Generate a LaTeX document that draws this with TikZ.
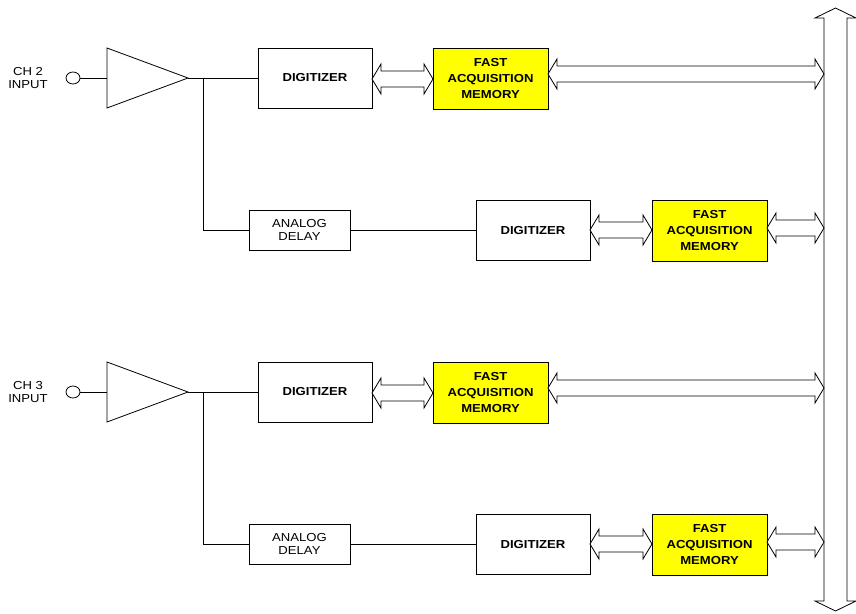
\documentclass[tikz,border=0pt]{standalone}
\usepackage{fontspec}
\setmainfont{Liberation Sans}[FakeStretch=1.13]
\usetikzlibrary{calc,shapes.geometric}
\definecolor{memyellow}{RGB}{255,255,0}
\newcommand{\dblarr}[2]{%
  \draw[dblar] let \p1=(#1), \p2=(#2) in
    (\x1,\y1) -- (\x1+9pt,\y1+15pt) -- (\x1+9pt,\y1+8pt) -- (\x2-9pt,\y1+8pt)
    -- (\x2-9pt,\y1+15pt) -- (\x2,\y1) -- (\x2-9pt,\y1-15pt) -- (\x2-9pt,\y1-8pt)
    -- (\x1+9pt,\y1-8pt) -- (\x1+9pt,\y1-15pt) -- cycle;}
\newcommand{\chanrow}[3]{% #1 suffix, #2 channel label, #3 yshift
\begin{scope}[yshift=#3]
  \node[lbl] (lab#1) at (28,78) {#2\\INPUT};
  \node[inport] (in#1) at (73,78) {};
  \coordinate (ampin#1) at (107,78);
  \coordinate (ampout#1) at (188,78);
  \draw (107,48) -- (ampout#1) -- (107,108) -- cycle;
  \coordinate (br#1) at (203,78);
  \node[dig] (da#1) at (315,78) {DIGITIZER};
  \node[mem] (ma#1) at (490.5,78.5) {FAST\\ACQUISITION\\MEMORY};
  \node[delay] (dl#1) at (299.5,230) {ANALOG\\DELAY};
  \node[dig] (db#1) at (533,230.5) {DIGITIZER};
  \node[mem] (mb#1) at (709.5,230.5) {FAST\\ACQUISITION\\MEMORY};
  \draw (in#1.east) -- (ampin#1);
  \draw (ampout#1) -- (da#1.west);
  \draw (br#1) |- (dl#1.west);
  \draw (dl#1.east) -- (dl#1.east -| db#1.west);
  \dblarr{$(da#1.east)+(0,1)$}{ma#1.west}
  \dblarr{$(ma#1.east)+(0,-4.5)$}{busL}
  \dblarr{$(db#1.east)+(0,-0.5)$}{mb#1.west}
  \dblarr{$(mb#1.east)+(0,-2.5)$}{busL}
\end{scope}}
\begin{document}
\begin{tikzpicture}[x=1pt,y=-1pt,line width=0.8pt,
  dblar/.style={draw=black,fill=white,line width=0.8pt,line join=miter},
  lbl/.style={align=center,inner sep=0,font=\fontsize{11.6}{13.5}\selectfont},
  inport/.style={draw,ellipse,minimum width=14pt,minimum height=12pt,inner sep=0},
  boxbase/.style={draw,align=center,inner sep=0,outer sep=0},
  dig/.style={boxbase,fill=white,minimum width=114pt,minimum height=60pt,
    font=\fontsize{11.6}{16}\selectfont\bfseries},
  mem/.style={boxbase,fill=memyellow,minimum width=115pt,minimum height=61pt,
    font=\fontsize{11.6}{16}\selectfont\bfseries},
  delay/.style={boxbase,fill=white,minimum width=101pt,minimum height=40pt,
    font=\fontsize{11.6}{13.5}\selectfont}]
\useasboundingbox (0,0) rectangle (856,613);
\coordinate (busL) at (824,0);
\coordinate (busTop) at (835.5,8);
\coordinate (busBot) at (835.5,611);
\draw[dblar] (busTop) -- (856,18) -- (847,18) -- (847,601) -- (856,601)
  -- (busBot) -- (815,601) -- (824,601) -- (824,18) -- (815,18) -- cycle;
\chanrow{A}{CH 2}{0pt}
\chanrow{B}{CH 3}{-314pt}
\end{tikzpicture}
\end{document}
